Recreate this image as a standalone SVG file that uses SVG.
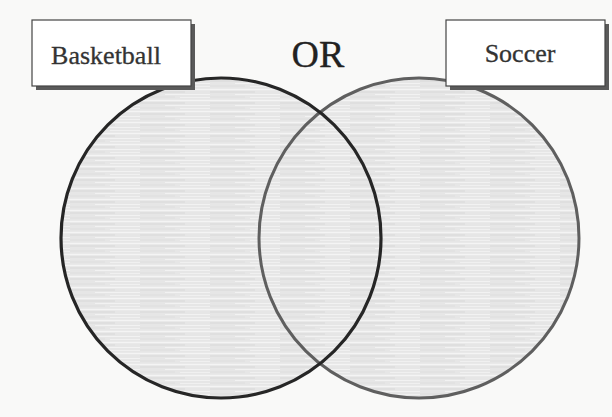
<svg xmlns="http://www.w3.org/2000/svg" width="612" height="417" viewBox="0 0 612 417">
  <defs>
    <pattern id="pencil" patternUnits="userSpaceOnUse" width="70" height="11">
      <rect width="70" height="11" fill="#e6e6e6"/>
      <line x1="0" y1="1.5" x2="70" y2="1.5" stroke="#f4f4f4" stroke-width="1.3"/>
      <line x1="0" y1="4" x2="45" y2="4" stroke="#d9d9d9" stroke-width="1"/>
      <line x1="25" y1="6.5" x2="70" y2="6.5" stroke="#f2f2f2" stroke-width="1.2"/>
      <line x1="0" y1="9" x2="35" y2="9" stroke="#dcdcdc" stroke-width="0.8"/>
      <line x1="40" y1="9.5" x2="70" y2="9.5" stroke="#f0f0f0" stroke-width="1"/>
    </pattern>
    <style>
      .fill { fill: url(#pencil); }
      .shadow { fill: #5a5a5a; }
      .box { fill: #ffffff; stroke: #444; stroke-width: 1.2; }
      .lbl { font-family: "Liberation Serif", "Times New Roman", serif; fill: #333; text-anchor: middle; stroke: #333; stroke-width: 0.3; }
    </style>
  </defs>
  <rect width="612" height="417" fill="#f9f9f8"/>

  <g id="fills">
    <circle cx="221" cy="238" r="160" class="fill"/>
    <circle cx="419" cy="238" r="160" class="fill"/>
  </g>

  <g id="set-soccer">
    <circle cx="419" cy="238" r="160" fill="none" stroke="#5f5f5f" stroke-width="3"/>
  </g>
  <g id="set-basketball">
    <circle cx="221" cy="238" r="160" fill="none" stroke="#262626" stroke-width="3.2"/>
  </g>

  <g id="label-basketball">
    <rect x="36" y="24" width="159" height="66" class="shadow"/>
    <rect x="32" y="20" width="159" height="66" class="box"/>
    <text x="106" y="64" class="lbl" font-size="26">Basketball</text>
  </g>

  <g id="label-soccer">
    <rect x="450" y="24" width="159" height="66" class="shadow"/>
    <rect x="446" y="20" width="159" height="66" class="box"/>
    <text x="520" y="62" class="lbl" font-size="26">Soccer</text>
  </g>

  <g id="label-or">
    <text x="318" y="67" class="lbl" font-size="38" style="fill:#222;stroke:#222">OR</text>
  </g>
</svg>
